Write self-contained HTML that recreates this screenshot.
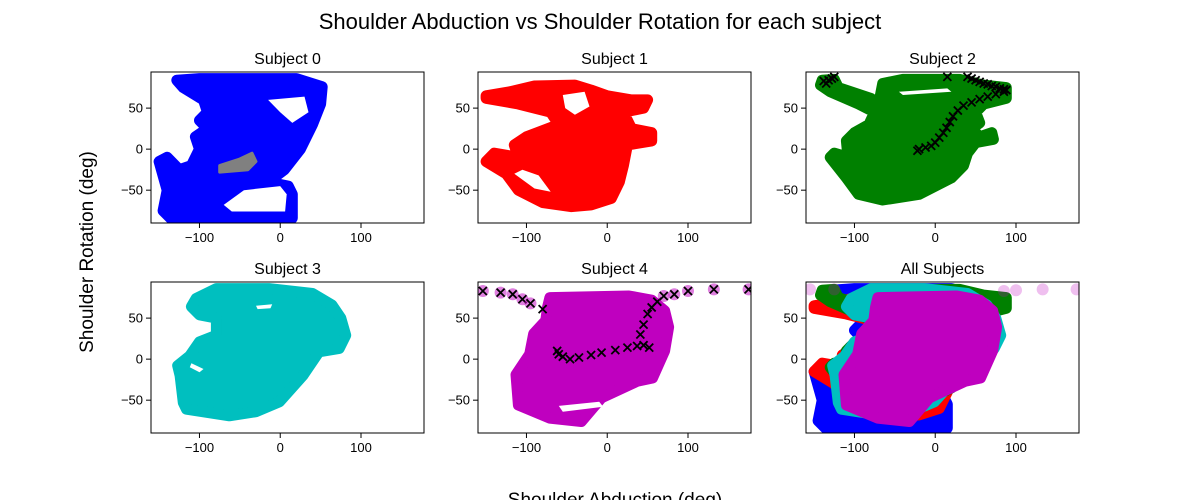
<!DOCTYPE html>
<html><head><meta charset="utf-8">
<style>
html,body{margin:0;padding:0;background:#fff;}
svg{display:block;font-family:"Liberation Sans","DejaVu Sans",sans-serif;}
</style></head>
<body>
<svg id="fig" width="1200" height="500" viewBox="0 0 1200 500">
<text x="600" y="29" text-anchor="middle" font-size="22" fill="#000">Shoulder Abduction vs Shoulder Rotation for each subject</text>
<text transform="translate(93,252) rotate(-90)" text-anchor="middle" font-size="19" fill="#000">Shoulder Rotation (deg)</text>
<text x="615" y="506" text-anchor="middle" font-size="19" fill="#000">Shoulder Abduction (deg)</text>
<g id="plots"></g>
</svg>
<script>
// axis ranges and ticks
const xTicks = [-100, 0, 100];
const yTicks = [-50, 0, 50];
const xRange = [-160, 178];
const yRange = [-90, 94];
const titles = ["Subject 0","Subject 1","Subject 2","Subject 3","Subject 4","All Subjects"];
const colors = ["#0000ff","#ff0000","#008000","#00bfbf","#bf00bf"];

// outlines of each subject's scatter cloud (abduction, rotation)
const s0Body = [[-128,84],[-100,86],[20,86],[52,76],[50,55],[40,30],[25,0],[5,-25],[-15,-40],[10,-45],[15,-55],[15,-84],[0,-86],[-135,-85],[-145,-75],[-140,-50],[-150,-15],[-140,-10],[-125,-25],[-110,-20],[-100,0],[-105,15],[-90,25],[-100,35],[-90,45],[-95,60],[-120,75]];
const s0Holes = [[[-45,-50],[0,-45],[8,-55],[6,-76],[-60,-76],[-70,-68]],[[-15,60],[30,64],[35,45],[15,32],[0,45]]];
const s0Gray = [[-75,-20],[-50,-12],[-35,-5],[-30,-15],[-40,-25],[-75,-28]];

const s1Body = [[-150,65],[-120,70],[-90,77],[-40,78],[-20,72],[0,65],[30,60],[50,60],[45,50],[20,45],[30,25],[55,20],[55,10],[25,5],[20,-20],[15,-40],[5,-60],[-20,-68],[-45,-70],[-80,-65],[-110,-50],[-125,-30],[-150,-15],[-140,-5],[-110,-10],[-115,5],[-100,15],[-60,30],[-70,45],[-110,55],[-150,62]];
const s1Holes = [[[-115,-30],[-90,-48],[-70,-52],[-85,-32],[-105,-25]],[[-55,66],[-28,70],[-22,52],[-40,42],[-52,50]]];

const s2Body = [[-140,84],[-125,85],[-120,75],[-80,62],[-70,55],[-65,80],[-40,85],[30,85],[60,78],[88,75],[88,62],[60,55],[50,45],[55,32],[45,25],[55,15],[70,20],[72,12],[50,8],[40,-5],[35,-20],[20,-35],[-20,-55],[-65,-62],[-95,-55],[-110,-35],[-130,-10],[-125,-5],[-108,-10],[-110,10],[-100,20],[-82,30],[-75,45],[-95,55],[-130,70],[-142,78]];
const s2Holes = [[[-45,70],[15,74],[20,70],[-40,66]]];
const s2Xx = [-138,-135,-132,-128,-125,15,40,45,50,55,60,65,70,75,80,85,88,85,75,65,55,45,35,28,22,18,14,10,5,0,-5,-12,-20,-22];
const s2Xy = [83,80,84,86,88,88,88,86,84,82,80,79,77,76,74,73,72,70,67,64,61,57,53,47,40,33,26,20,14,8,4,2,0,-2];

const s3Body = [[-79,86],[-14,86],[40,80],[64,66],[75,50],[81,29],[73,13],[48,9],[28,-20],[-1,-52],[-30,-64],[-63,-69],[-116,-61],[-120,-53],[-124,-20],[-127,-8],[-112,4],[-100,21],[-79,29],[-79,50],[-100,54],[-110,64],[-104,74]];
const s3Holes = [[[-30,65],[-10,67],[-12,62],[-28,61]],[[-110,-5],[-95,-12],[-100,-16],[-112,-10]]];

const s4Body = [[-71,75],[27,77],[55,72],[71,59],[76,39],[71,10],[56,-23],[37,-27],[-7,-47],[-32,-76],[-71,-72],[-110,-56],[-113,-19],[-96,6],[-91,31],[-76,47],[-74,63]];
const s4Holes = [[[-60,-57],[-10,-52],[-5,-58],[-55,-64]]];
const s4Xx = [-154,-132,-117,-105,-95,-80,-62,-60,-55,-46,-35,-20,-7,10,25,37,45,52,41,45,50,55,62,70,83,100,132,175];
const s4Xy = [83,81,79,73,68,61,10,6,3,0,2,5,8,11,14,16,17,14,30,42,55,63,70,77,79,83,85,85];
const allFaintX = [-155,-125,85,100,133,175];
const allFaintY = [85,85,83,84,85,85];

const bodies = [s0Body,s1Body,s2Body,s3Body,s4Body];
const holes = [s0Holes,s1Holes,s2Holes,s3Holes,s4Holes];

const colLeft = [151,478,806], rowTop = [72,282], W = 273, H = 151;
const NS = "http://www.w3.org/2000/svg";
const root = document.getElementById('plots');

function mk(tag, attrs, parent){const e=document.createElementNS(NS,tag);for(const k in attrs)e.setAttribute(k,attrs[k]);parent.appendChild(e);return e;}

function drawPanel(idx){
  const c = idx%3, r = Math.floor(idx/3);
  const L = colLeft[c], T = rowTop[r];
  const sx = v => L + (v - xRange[0])/(xRange[1]-xRange[0])*W;
  const sy = v => T + (yRange[1] - v)/(yRange[1]-yRange[0])*H;
  const g = mk('g',{},root);
  
  
  const cp = mk('clipPath',{id:'cp'+idx},g);
  mk('rect',{x:L,y:T,width:W,height:H},cp);
  const data = mk('g',{'clip-path':'url(#cp'+idx+')'},g);
  const pts = arr => arr.map(p=>sx(p[0]).toFixed(1)+','+sy(p[1]).toFixed(1)).join(' ');
  const which = idx<5 ? [idx] : [0,1,2,3,4];
  which.forEach(s=>{
    const poly = mk('polygon',{points:pts(bodies[s]),fill:colors[s],stroke:colors[s],'stroke-width':11,'stroke-linejoin':'round'},data);
    
    
    if(idx<5){
      holes[s].forEach(h=>{
        const hp = mk('polygon',{points:pts(h),fill:'#fff'},data);
        
        
      });
    }
  });
  if(idx===0){
    const gp = mk('polygon',{points:pts(s0Gray),fill:'#808080',stroke:'#808080','stroke-width':3,'stroke-linejoin':'round'},data);
    
    
  }
  if(idx===5){
    allFaintX.forEach((v,i)=>{
      const ci = mk('circle',{cx:sx(v),cy:sy(allFaintY[i]),r:6,fill:'#bf00bf','fill-opacity':0.25},data);
      
      
    });
  }
  const xs = idx===2 ? [s2Xx,s2Xy] : idx===4 ? [s4Xx,s4Xy] : null;
  if(xs){
    xs[0].forEach((v,i)=>{
      const X=sx(v),Y=sy(xs[1][i]),d=4;
      if(idx===4 && (i<5 || i>22)) {
        const bg = mk('circle',{cx:X,cy:Y,r:6,fill:'#bf00bf','fill-opacity':0.5},data);
        
        
      }
      const m = mk('path',{d:`M${X-d},${Y-d}L${X+d},${Y+d}M${X-d},${Y+d}L${X+d},${Y-d}`,stroke:'#000','stroke-width':1.8},data);
      
      
    });
  }
  const frame = mk('rect',{x:L,y:T,width:W,height:H,fill:'none',stroke:'#000','stroke-width':1},g);
  
  
  const t = mk('text',{x:L+W/2,y:T-8,'text-anchor':'middle','font-size':16},g);
  t.textContent = titles[idx];
  
  
  xTicks.forEach(v=>{
    const X = sx(v);
    const tk = mk('line',{x1:X,x2:X,y1:T+H,y2:T+H+5,stroke:'#000'},g);
    
    
    const tl = mk('text',{x:X,y:T+H+19,'text-anchor':'middle','font-size':13},g);
    tl.textContent = v<0 ? '\u2212'+Math.abs(v) : String(v);
    
    
  });
  yTicks.forEach(v=>{
    const Y = sy(v);
    const tk = mk('line',{x1:L-5,x2:L,y1:Y,y2:Y,stroke:'#000'},g);
    
    
    const tl = mk('text',{x:L-8,y:Y+4.5,'text-anchor':'end','font-size':13},g);
    tl.textContent = v<0 ? '\u2212'+Math.abs(v) : String(v);
    
    
  });
}
for(let i=0;i<6;i++) drawPanel(i);
</script>
</body></html>
